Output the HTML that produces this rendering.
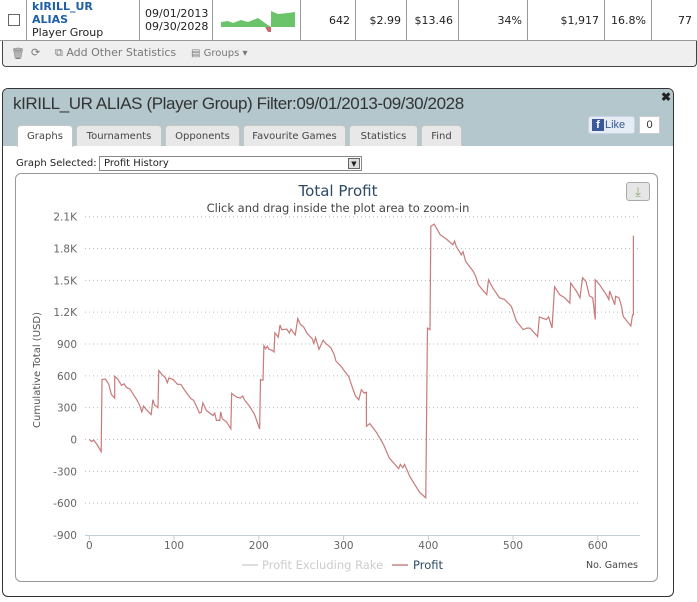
<!DOCTYPE html>
<html><head><meta charset="utf-8">
<style>
*{box-sizing:border-box;margin:0;padding:0}
body{width:697px;height:602px;background:#fff;font-family:"Liberation Sans",sans-serif;position:relative;overflow:hidden;color:#333}
.abs{position:absolute}
.cell{position:absolute;top:0;height:40px;border-right:1px solid #999;font-size:11px;display:flex;align-items:center;justify-content:flex-end;padding-right:5px;font-family:"DejaVu Sans",sans-serif;color:#222}
.tab{position:absolute;top:125px;height:21px;background:#e8e8e8;border:1px solid #c6c6c6;border-bottom:none;border-radius:4px 4px 0 0;font-size:10px;font-family:"DejaVu Sans",sans-serif;color:#444;display:flex;align-items:center;justify-content:center}
</style></head><body>
<div class="abs" style="left:0;top:0;width:697px;height:41px;border-bottom:1px solid #999">
  <div class="abs" style="left:8px;top:14px;width:12px;height:12px;border:1px solid #666;background:#fff"></div>
  <div class="cell" style="left:0;width:27px"></div>
  <div class="cell" style="left:27px;width:113px;justify-content:flex-start;padding-left:5px;display:block;padding-top:0;line-height:13px"><span style="color:#1f5fa8;font-weight:bold">kIRILL_UR<br>ALIAS</span><br>Player Group</div>
  <div class="cell" style="left:140px;width:73px;justify-content:flex-start;padding-left:5px;line-height:13px">09/01/2013<br>09/30/2028</div>
  <div class="cell" style="left:213px;width:88px;padding:0">
    <svg width="88" height="40" style="position:absolute;left:0;top:0"><polygon points="8,22 15,21 20,23 28,20 35,22 45,18 52,23 58,27 58,11 65,14 75,13 82,12 82,27 8,27" fill="#6cc46a"/><polygon points="52,27 58,27 58,32 55,32" fill="#c86a6a"/></svg>
  </div>
  <div class="cell" style="left:301px;width:55px">642</div>
  <div class="cell" style="left:356px;width:51px">$2.99</div>
  <div class="cell" style="left:407px;width:52px">$13.46</div>
  <div class="cell" style="left:459px;width:69px">34%</div>
  <div class="cell" style="left:528px;width:77px">$1,917</div>
  <div class="cell" style="left:605px;width:47px">16.8%</div>
  <div class="cell" style="left:652px;width:45px;border-right:none">77</div>
</div>
<div class="abs" style="left:2px;top:41px;width:695px;height:26px;background:#efefef;border:1px solid #444;border-top:none;border-radius:0 0 4px 4px;font-size:11px;font-family:'DejaVu Sans',sans-serif;color:#777">
  <span class="abs" style="left:8px;top:6px">🗑</span>
  <span class="abs" style="left:28px;top:5px">⟳</span>
  <span class="abs" style="left:52px;top:5px">⧉ Add Other Statistics</span>
  <span class="abs" style="left:188px;top:7px;font-size:10px">▤ Groups ▾</span>
</div>
<div class="abs" style="left:2px;top:88px;width:672px;height:509px;border:1px solid #333;border-radius:6px;overflow:hidden;background:#fff">
  <div class="abs" style="left:0;top:0;width:672px;height:57px;background:#b3c7cd"></div>
  <div class="abs" style="left:10px;top:5px;font-size:17px;color:#333;letter-spacing:-0.4px">kIRILL_UR ALIAS (Player Group) Filter:09/01/2013-09/30/2028</div>
  <div class="abs" style="left:658px;top:1px;font-size:12px;font-weight:bold;color:#222">✖</div>
  <div class="abs" style="left:585px;top:27px;width:47px;height:18px;background:#e6ecf4;border:1px solid #c9d3e3;border-radius:3px;font-size:11px;color:#3b5998"><span style="display:inline-block;background:#3b5998;color:#fff;font-weight:bold;width:12px;height:12px;margin:2px 1px 0 3px;text-align:center;line-height:13px">f</span>Like</div>
  <div class="abs" style="left:636px;top:27px;width:21px;height:18px;background:#fff;border:1px solid #ccc;font-size:11px;text-align:center;line-height:16px">0</div>
</div>
<div class="tab" style="left:17px;width:56px;background:#fff;height:22px">Graphs</div>
<div class="tab" style="left:76px;width:86px">Tournaments</div>
<div class="tab" style="left:165px;width:75px">Opponents</div>
<div class="tab" style="left:243px;width:103px">Favourite Games</div>
<div class="tab" style="left:349px;width:69px">Statistics</div>
<div class="tab" style="left:421px;width:41px">Find</div>
<div class="abs" style="left:16px;top:158px;font-size:10px;font-family:'DejaVu Sans',sans-serif;color:#222">Graph Selected:</div>
<div class="abs" style="left:99px;top:156px;width:263px;height:15px;border:1px solid #888;font-size:10px;font-family:'DejaVu Sans',sans-serif;padding-left:4px;line-height:13px;color:#222">Profit History<span style="position:absolute;right:1px;top:1px;width:12px;height:11px;background:#ddd;border:1px solid #666;font-size:7px;text-align:center;line-height:10px">▼</span></div>
<div class="abs" style="left:15px;top:173px;width:643px;height:409px;border:1px solid #999;border-radius:6px"></div>
<div class="abs" style="left:626px;top:182px;width:24px;height:19px;background:#e6e6e6;border:1px solid #aaa;border-radius:3px;color:#8aa860;font-size:13px;text-align:center;line-height:17px">⤓</div>
<svg id="chart" class="abs" style="left:0;top:0" width="697" height="602"></svg>
<script>
const tickValues=[-900,-600,-300,0,300,600,900,1200,1500,1800,2100];
const tickLabels=["-900","-600","-300","0","300","600","900","1.2K","1.5K","1.8K","2.1K"];
const xTicks=[0,100,200,300,400,500,600];
const games=[0,3,5,9,14,15,19,23,26,30,30,34,38,41,44,48,52,56,59,62,64,68,73,75,77,81,82,86,90,92,94,99,104,108,112,116,120,123,126,130,132,134,138,142,146,148,150,154,155,157,162,167,168,171,174,178,181,183,189,195,201,202,205,206,208,210,212,216,218,219,223,225,227,233,236,238,243,246,249,253,257,263,265,267,271,276,279,285,289,291,297,302,306,310,314,318,321,324,327,327,331,339,347,354,359,365,367,370,372,378,384,390,397,399,402,403,407,414,422,429,431,433,439,441,444,453,456,459,465,469,471,476,484,490,498,504,512,516,520,529,531,539,542,546,549,555,561,567,568,575,579,582,586,590,594,597,597,602,610,613,614,620,621,625,628,630,639,641,642,642];
const profit=[0,-20,-5,-45,-115,565,570,520,425,390,595,565,510,525,490,475,425,375,330,260,315,275,235,375,325,300,650,610,580,535,580,565,520,520,470,425,385,370,320,250,255,345,275,250,225,250,180,180,260,195,165,100,435,415,400,390,410,375,315,235,100,565,560,885,855,880,850,840,825,1005,965,1080,1035,1040,1005,1040,985,1140,1085,1060,1000,950,905,960,850,935,905,865,800,740,690,635,595,500,410,375,470,440,445,125,150,65,-45,-175,-220,-275,-235,-265,-235,-345,-425,-500,-550,1050,1035,2010,2030,1930,1885,1835,1870,1820,1740,1770,1680,1585,1535,1460,1400,1365,1505,1430,1335,1320,1255,1115,1035,1050,1050,970,1155,1130,1155,1050,1440,1365,1335,1285,1475,1395,1335,1525,1490,1355,1335,1130,1505,1460,1365,1320,1400,1270,1350,1335,1255,1160,1070,1175,1175,1920];
const NS='http://www.w3.org/2000/svg';
const svg=document.getElementById('chart');
const X0=89.3,XS=0.8475,Y0=439.5,YS=0.1061;
const xs=v=>X0+v*XS, ys=v=>Y0-v*YS;
function mk(t,a,txt){const e=document.createElementNS(NS,t);for(const k in a)e.setAttribute(k,a[k]);if(txt!==undefined)e.textContent=txt;svg.appendChild(e);return e;}
const F='"DejaVu Sans","Liberation Sans",sans-serif';
tickValues.forEach((v,i)=>{
  if(v>-900){const g=mk('line',{x1:85,x2:640,y1:ys(v),y2:ys(v),stroke:'#bbb','stroke-dasharray':'1,3'});
  
  }
  const t=mk('text',{x:77,y:ys(v)+4,'text-anchor':'end','font-size':10.5,fill:'#666','font-family':F},tickLabels[i]);
  
  
});
const ax=mk('line',{x1:85,x2:640,y1:535.5,y2:535.5,stroke:'#c0ccd8','stroke-width':1});


xTicks.forEach(v=>{
  const l=mk('line',{x1:xs(v),x2:xs(v),y1:535,y2:540,stroke:'#c0ccd8'});
  
  
  const t=mk('text',{x:xs(v),y:549,'text-anchor':'middle','font-size':10.5,fill:'#666','font-family':F},String(v));
  
  
});
const p=mk('polyline',{points:games.map((g,i)=>xs(g)+','+ys(profit[i])).join(' '),fill:'none',stroke:'#c97a7a','stroke-width':1.2});


const tt=mk('text',{x:338,y:196,'text-anchor':'middle','font-size':15,fill:'#2e4a66','font-family':F},'Total Profit');


const st=mk('text',{x:338,y:212,'text-anchor':'middle','font-size':11.5,fill:'#444','font-family':F},'Click and drag inside the plot area to zoom-in');


const yt=mk('text',{x:0,y:0,transform:'translate(40,370) rotate(-90)','text-anchor':'middle','font-size':10,fill:'#555','font-family':F},'Cumulative Total (USD)');


const xt=mk('text',{x:638,y:568,'text-anchor':'end','font-size':9.5,fill:'#444','font-family':F},'No. Games');


const l1=mk('line',{x1:242,x2:258,y1:565,y2:565,stroke:'#ddd','stroke-width':2});


const e1=mk('text',{x:262,y:569,'font-size':11.5,fill:'#ccc','font-family':F},'Profit Excluding Rake');


const l2=mk('line',{x1:392,x2:408,y1:565,y2:565,stroke:'#d9a3a3','stroke-width':2});


const e2=mk('text',{x:413,y:569,'font-size':11.5,fill:'#2e4a66','font-family':F},'Profit');


</script>
</body></html>
